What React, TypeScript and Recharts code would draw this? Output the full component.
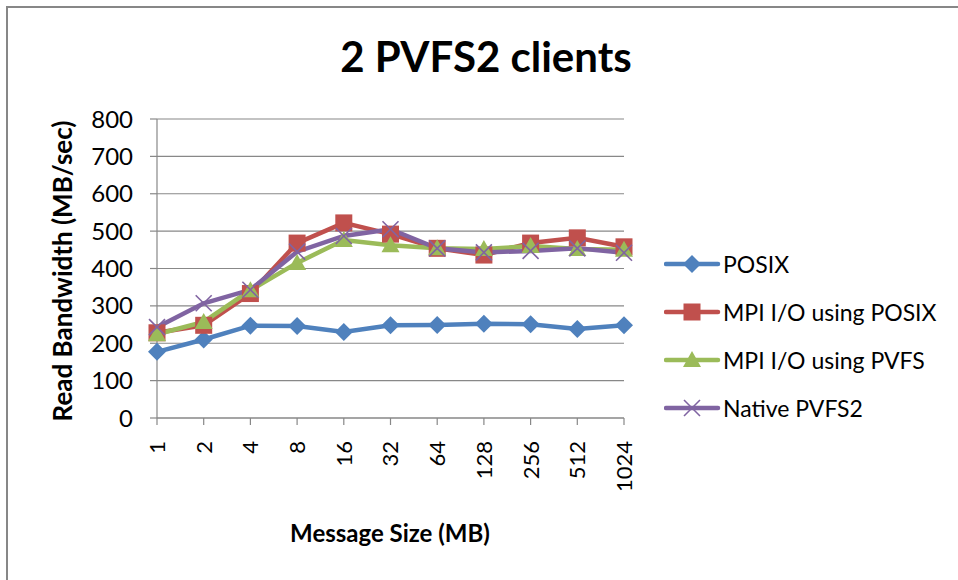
import { CartesianGrid, Line, LineChart, XAxis, YAxis } from "recharts";

const sizes = ["1", "2", "4", "8", "16", "32", "64", "128", "256", "512", "1024"];
const posix = [177, 210, 247, 246, 230, 248, 249, 252, 251, 238, 248];
const mpiPosix = [228, 248, 333, 468, 522, 492, 454, 436, 468, 482, 458];
const mpiPvfs = [224, 257, 342, 415, 476, 462, 454, 452, 460, 452, 450];
const nativePvfs2 = [243, 307, 343, 445, 487, 505, 454, 443, 447, 454, 442];
const yTicks = [0, 100, 200, 300, 400, 500, 600, 700, 800];

const FONT = "Lato, 'Noto Sans', sans-serif";

const series = [
  { key: "posix", name: "POSIX", color: "#4F81BD", shape: "diamond" },
  { key: "mpiPosix", name: "MPI I/O using POSIX", color: "#C0504D", shape: "square" },
  { key: "mpiPvfs", name: "MPI I/O using PVFS", color: "#9BBB59", shape: "triangle" },
  { key: "native", name: "Native PVFS2", color: "#8064A2", shape: "cross" },
];

const data = sizes.map((size, i) => ({
  size,
  posix: posix[i],
  mpiPosix: mpiPosix[i],
  mpiPvfs: mpiPvfs[i],
  native: nativePvfs2[i],
}));

function Marker({ shape, color, cx, cy }: { shape: string; color: string; cx: number; cy: number }) {
  if (shape === "diamond") {
    const r = 9;
    return <polygon points={`${cx},${cy - r} ${cx + r},${cy} ${cx},${cy + r} ${cx - r},${cy}`} fill={color} />;
  }
  if (shape === "square") {
    return <rect x={cx - 8.5} y={cy - 8.5} width={17} height={17} fill={color} />;
  }
  if (shape === "triangle") {
    return <polygon points={`${cx},${cy - 9} ${cx + 9},${cy + 7} ${cx - 9},${cy + 7}`} fill={color} />;
  }
  const r = 8;
  return (
    <g stroke={color} strokeWidth={1.6}>
      <line x1={cx - r} y1={cy - r} x2={cx + r} y2={cy + r} />
      <line x1={cx - r} y1={cy + r} x2={cx + r} y2={cy - r} />
    </g>
  );
}

function XTick({ x, y, payload }: any) {
  const ty = y + 14;
  return (
    <text
      x={x}
      y={ty}
      transform={`rotate(-90, ${x}, ${ty})`}
      textAnchor="end"
      dy="0.36em"
      fontSize={22}
      fontFamily={FONT}
      fill="#000"
    >
      {payload.value}
    </text>
  );
}

function YTitle() {
  return (
    <text
      x={62}
      y={271}
      transform="rotate(-90, 62, 271)"
      textAnchor="middle"
      dominantBaseline="central"
      fontSize={26}
      fontWeight={700}
      fontFamily={FONT}
      fill="#000"
    >
      Read Bandwidth (MB/sec)
    </text>
  );
}

function XTitle() {
  return (
    <text x={390} y={542} textAnchor="middle" fontSize={24} fontWeight={700} fontFamily={FONT} fill="#000">
      Message Size (MB)
    </text>
  );
}

export default function App() {
  return (
    <div style={{ position: "absolute", left: 0, top: 0, width: 958, height: 580, background: "#fff", overflow: "hidden" }}>
      <div
        style={{
          position: "absolute",
          left: 6,
          top: 6,
          width: 970,
          height: 600,
          borderLeft: "2px solid #878787",
          borderTop: "2px solid #878787",
        }}
      />
      <div
        style={{
          position: "absolute",
          left: 0,
          top: 29,
          width: 972,
          textAlign: "center",
          fontFamily: FONT,
          fontWeight: 700,
          fontSize: 42,
          lineHeight: "54px",
          color: "#000",
        }}
      >
        2 PVFS2 clients
      </div>
      <LineChart
        width={958}
        height={580}
        data={data}
        margin={{ top: 119, right: 334, bottom: 0, left: 0 }}
        style={{ position: "absolute", left: 0, top: 0 }}
      >
        <CartesianGrid vertical={false} stroke="#888" strokeWidth={1.2} />
        <XAxis
          dataKey="size"
          scale="point"
          padding={{ left: 0, right: 0 }}
          interval={0}
          height={162}
          tickSize={7}
          stroke="#888"
          strokeWidth={1.2}
          tick={<XTick />}
          label={<XTitle />}
        />
        <YAxis
          domain={[0, 800]}
          ticks={yTicks}
          interval={0}
          width={157}
          tickSize={7}
          tickMargin={17}
          stroke="#888"
          strokeWidth={1.2}
          tick={{ fill: "#000", fontSize: 24, fontFamily: FONT }}
          label={<YTitle />}
        />
        {series.map((s) => (
          <Line
            key={s.key}
            dataKey={s.key}
            name={s.name}
            stroke={s.color}
            strokeWidth={4.5}
            isAnimationActive={false}
            dot={(p: any) => <Marker key={`${s.key}-${p.index}`} shape={s.shape} color={s.color} cx={p.cx} cy={p.cy} />}
            activeDot={false}
          />
        ))}
      </LineChart>
      <div style={{ position: "absolute", left: 664, top: 240 }}>
        {series.map((s) => (
          <div key={s.key} style={{ display: "flex", alignItems: "center", height: 48 }}>
            <svg width={58} height={24}>
              <line x1={2} y1={12} x2={54} y2={12} stroke={s.color} strokeWidth={4.5} strokeLinecap="round" />
              <Marker shape={s.shape} color={s.color} cx={28} cy={12} />
            </svg>
            <span style={{ fontFamily: FONT, fontSize: 23, color: "#000", marginLeft: 1 }}>{s.name}</span>
          </div>
        ))}
      </div>
    </div>
  );
}
